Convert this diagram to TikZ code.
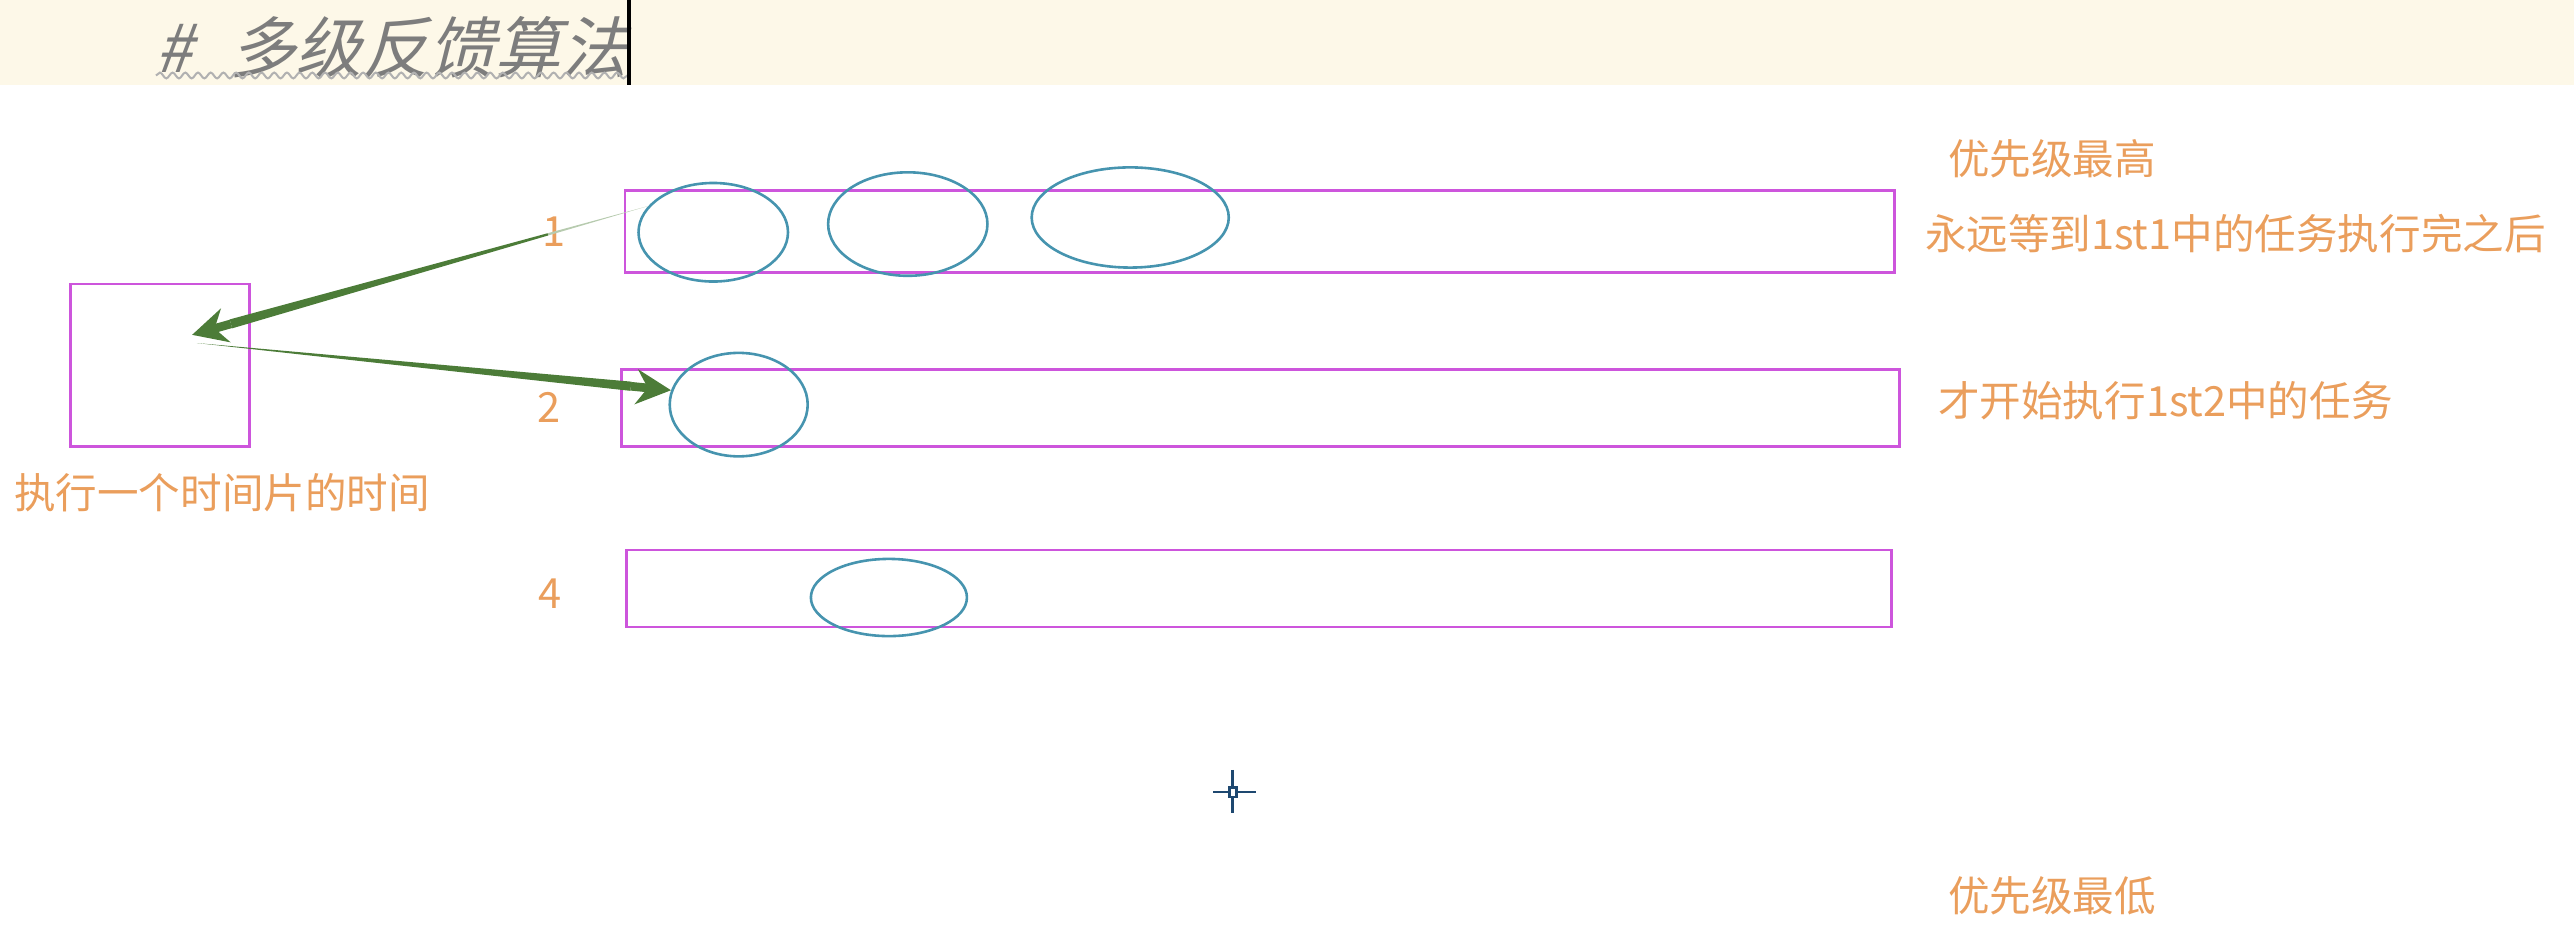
\documentclass[tikz,border=0pt]{standalone}
\usepackage{fontspec}
\setmainfont{Noto Sans CJK SC}
\newfontfamily\cjktitle[FakeSlant=0.25]{Noto Sans CJK SC}
\usetikzlibrary{arrows.meta}
\usetikzlibrary{positioning}
\usetikzlibrary{calc}
\usetikzlibrary{shapes.geometric}
\usetikzlibrary{decorations.pathmorphing}

\definecolor{cream}{RGB}{253,248,232}
\definecolor{titlegray}{RGB}{125,125,125}
\definecolor{qpink}{RGB}{205,85,220}
\definecolor{jobteal}{RGB}{70,148,175}
\definecolor{feedgreen}{RGB}{76,124,56}
\definecolor{noteorange}{RGB}{234,158,92}
\definecolor{cursorblue}{RGB}{30,72,112}

\begin{document}
\begin{tikzpicture}[x=0.01cm,y=-0.01cm,
	queue/.style={draw=qpink,line width=0.45pt,inner sep=0pt},
	job/.style={ellipse,draw=jobteal,line width=0.45pt,inner sep=0pt},
	note/.style={text=noteorange,font=\fontsize{7.2}{8}\selectfont,inner sep=0pt},
	feed/.style={fill=feedgreen},
	feedtip/.style={draw=feedgreen,line width=1.5pt,-{Stealth[length=6pt,width=6pt]}}]
	\useasboundingbox (0,0) rectangle (1568,577);

	% -- Heading
	\fill[cream] (0,0) rectangle (1568,52);
	\node[anchor=east,inner sep=0pt,text=titlegray,font=\cjktitle\fontsize{11.5}{14}\selectfont] (title) at (383,29) {\#\hspace{0.55em}多级反馈算法};
	\draw[titlegray!60,line width=0.35pt,decorate,decoration={snake,amplitude=0.5pt,segment length=2.2pt}] (95,46) -- (383,46);
	\draw[line width=0.7pt] (383,0) -- (383,52);

	% -- Queues
	\node[queue,minimum width=7.73cm,minimum height=0.50cm] (q1) at (767.5,141) {};
	\node[queue,minimum width=7.78cm,minimum height=0.47cm] (q2) at (768,248.5) {};
	\node[queue,minimum width=7.70cm,minimum height=0.47cm] (q4) at (767,358.5) {};
	\node[note,left=0.35cm of q1] (n1) {1};
	\node[note,left=0.36cm of q2] (n2) {2};
	\node[note,left=0.38cm of q4,yshift=-0.03cm] (n4) {4};

	% -- Jobs
	\node[job,minimum width=0.91cm,minimum height=0.60cm] (e11) at (434.5,141.5) {};
	\node[job,minimum width=0.97cm,minimum height=0.63cm] (e12) at (553,136.5) {};
	\node[job,minimum width=1.20cm,minimum height=0.61cm] (e13) at (688.5,132.5) {};
	\node[job,minimum width=0.84cm,minimum height=0.63cm] (e21) at (450,246.5) {};
	\node[job,minimum width=0.95cm,minimum height=0.47cm] (e41) at (541.5,364) {};

	% -- CPU slice
	\node[queue,minimum width=1.09cm,minimum height=0.99cm] (cpu) at (97.5,222.5) {};
	\node[note,anchor=west] (cpulabel) at (8,300) {执行一个时间片的时间};
	\coordinate (slotin) at (117,204);
	\coordinate (slotout) at (120,209);

	% -- Arrow 1: lst1 -> CPU
	\coordinate (neck1) at ($(slotin)!7pt!(e11.158)$);
	\coordinate (mid1) at ($(e11.158)!0.22!(slotin)$);
	\fill[feedgreen!40] (e11.158) -- ($(mid1)!0.2pt!90:(e11.158)$) -- ($(mid1)!0.2pt!-90:(e11.158)$) -- cycle;
	\fill[feed] ($(mid1)!0.2pt!90:(e11.158)$) -- ($(neck1)!0.8pt!90:(e11.158)$) -- ($(neck1)!0.8pt!-90:(e11.158)$) -- ($(mid1)!0.2pt!-90:(e11.158)$) -- cycle;
	\draw[feedtip] (neck1) -- (slotin);

	% -- Arrow 2: CPU -> lst2
	\coordinate (neck2) at ($(e21.168)!7pt!(slotout)$);
	\fill[feed] (slotout) -- ($(neck2)!0.8pt!90:(slotout)$) -- ($(neck2)!0.8pt!-90:(slotout)$) -- cycle;
	\draw[feedtip] (neck2) -- (e21.168);

	% -- Notes
	\node[note,anchor=west] (top) at (1186,97) {优先级最高};
	\node[note,anchor=west] (wait) at (1172,142) {永远等到1st1中的任务执行完之后};
	\node[note,anchor=west] (then) at (1180,244) {才开始执行1st2中的任务};
	\node[note,anchor=west] (bottom) at (1186,546) {优先级最低};

	% -- Cursor
	\draw[cursorblue,line width=0.5pt] (751,469) -- (751,479.5) (751,485.5) -- (751,495)
		(739,482.5) -- (749,482.5) (753,482.5) -- (765,482.5);
	\draw[cursorblue,line width=0.5pt] (749,479.5) rectangle (753,485.5);
\end{tikzpicture}
\end{document}
